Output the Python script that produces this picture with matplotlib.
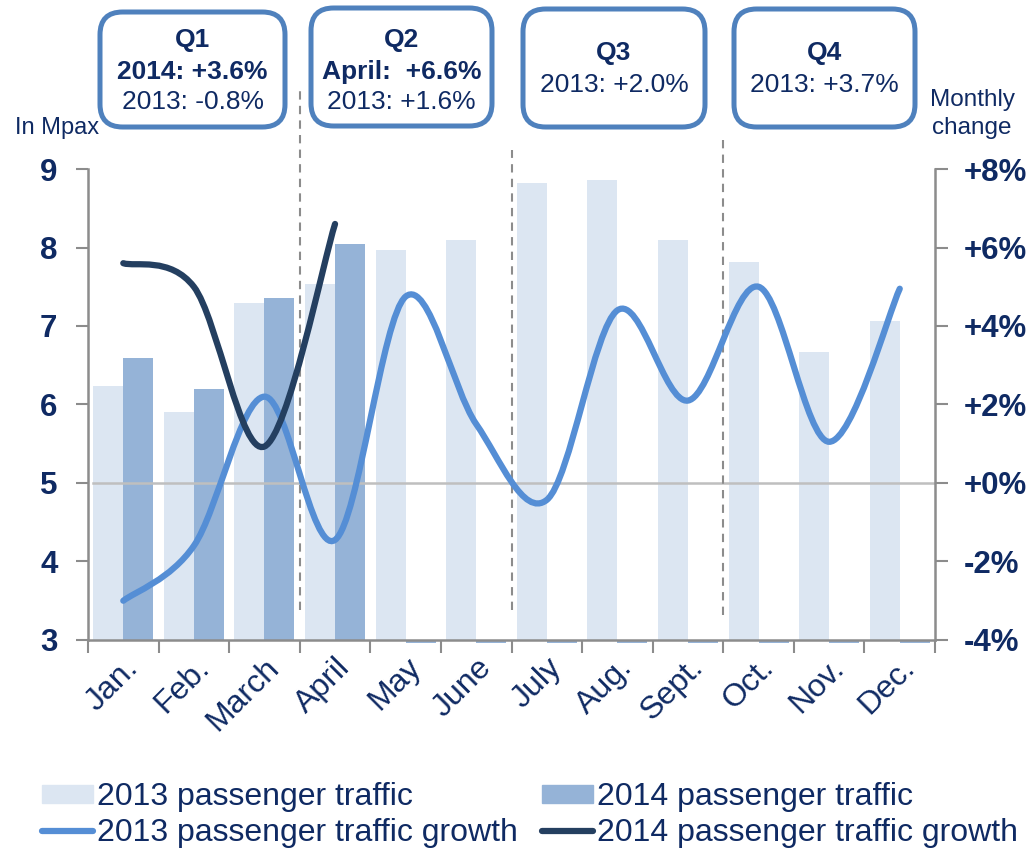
import matplotlib
matplotlib.use('Agg')
import matplotlib.pyplot as plt
from matplotlib.path import Path
from matplotlib.patches import PathPatch, FancyBboxPatch, Patch
from matplotlib.lines import Line2D
import matplotlib.transforms as mtransforms
import numpy as np

plt.rcParams['font.family'] = ['Liberation Sans', 'DejaVu Sans']

# data
months = ['Jan.', 'Feb.', 'March', 'April', 'May', 'June',
          'July', 'Aug.', 'Sept.', 'Oct.', 'Nov.', 'Dec.']
traffic_2013 = [6.24, 5.90, 7.29, 7.54, 7.97, 8.10, 8.82, 8.86, 8.10, 7.82, 6.67, 7.06]
traffic_2014 = [6.59, 6.20, 7.36, 8.04, 0, 0, 0, 0, 0, 0, 0, 0]
growth_2013 = [-3.0, -1.6, 2.2, -1.45, 4.75, 1.5, -0.43, 4.4, 2.1, 5.0, 1.05, 4.95]
growth_2014 = [5.6, 5.0, 0.93, 6.6]
quarters = ['Q1', 'Q2', 'Q3', 'Q4']
quarter_bold = ['2014: +3.6%', 'April:  +6.6%', None, None]
quarter_2013 = ['2013: -0.8%', '2013: +1.6%', '2013: +2.0%', '2013: +3.7%']

navy = '#0f2a63'
c13 = '#dce6f2'
c14 = '#95b3d7'
l13 = '#558ed5'
l14 = '#243f60'
box_col = '#4f81bd'
grey = '#8c8c8c'


def smooth_path(xs, ys):
    # bezier like excel "smoothed line"
    pts = np.column_stack([xs, ys]).astype(float)
    n = len(pts)
    verts = [pts[0]]
    codes = [Path.MOVETO]
    for i in range(n - 1):
        p0 = pts[i - 1] if i > 0 else pts[i]
        p1 = pts[i]
        p2 = pts[i + 1]
        p3 = pts[i + 2] if i + 2 < n else pts[i + 1]
        verts += [p1 + (p2 - p0) / 6.0, p2 - (p3 - p1) / 6.0, p2]
        codes += [Path.CURVE4] * 3
    return Path(verts, codes)


fig = plt.figure(figsize=(10.29, 8.48), dpi=100)
ax = fig.add_axes([0.0855, 0.2453, 0.8232, 0.5554])
x = np.arange(len(months))
w = 0.425

ax.bar(x - w / 2, traffic_2013, w, color=c13, zorder=2)
has14 = [v > 0 for v in traffic_2014]
ax.bar(x[has14] + w / 2, np.array(traffic_2014)[has14], w, color=c14, zorder=2)
# empty 2014 months show as a thin sliver under the axis
sl = ax.bar(x[[not h for h in has14]] + w / 2, -0.04, w, bottom=3, color=c14, zorder=2)
for b in sl:
    b.set_clip_on(False)

ax.set_xlim(-0.5, 11.5)
ax.set_ylim(3, 9)
ax.set_yticks(range(3, 10))
ax.set_xticks(np.arange(-0.5, 12, 1))
ax.set_xticklabels([])
ax.set_xticks(x, minor=True)
ax.set_xticklabels(months, minor=True, rotation=45, ha='right', va='top',
                   rotation_mode='anchor', fontsize=23, color=navy)
ax.tick_params(axis='x', which='minor', length=0, pad=9)
ax.tick_params(axis='x', which='major', length=9, width=1.5, color=grey)
ax.tick_params(axis='y', length=9, width=1.5, color=grey, labelsize=22.5,
               labelcolor=navy, pad=13)
for t in ax.get_yticklabels():
    t.set_fontweight('bold')
for s in ['top', 'right']:
    ax.spines[s].set_visible(False)
for s in ['left', 'bottom']:
    ax.spines[s].set_color(grey)
    ax.spines[s].set_linewidth(1.8)

# zero line of the growth axis
ax.axhline(5, xmin=0.006, color='#bfbfbf', lw=1.8, zorder=3)

# quarter separators
trans = mtransforms.blended_transform_factory(ax.transData, ax.transAxes)
for xb, y0, y1 in [(2.5, 0.064, 1.168), (5.5, 0.064, 1.04), (8.5, 0.053, 1.072)]:
    ax.plot([xb, xb], [y0, y1], transform=trans, color=grey, lw=1.5,
            ls=(0, (4, 3)), clip_on=False, zorder=3)

ax2 = ax.twinx()
ax2.set_ylim(-4, 8)
ax2.set_yticks(range(-4, 9, 2))
ax2.set_yticklabels(['-4%', '-2%', '+0%', '+2%', '+4%', '+6%', '+8%'])
ax2.tick_params(axis='y', length=9, width=1.5, color=grey, labelsize=22.5,
                labelcolor=navy, pad=12)
for t in ax2.get_yticklabels():
    t.set_fontweight('bold')
for s in ['top', 'left', 'bottom']:
    ax2.spines[s].set_visible(False)
ax2.spines['right'].set_color(grey)
ax2.spines['right'].set_linewidth(1.8)

ax2.add_patch(PathPatch(smooth_path(x, growth_2013), fill=False, ec=l13,
                        lw=4.5, capstyle='round', zorder=4))
ax2.add_patch(PathPatch(smooth_path(x[:len(growth_2014)], growth_2014), fill=False,
                        ec=l14, lw=4.5, capstyle='round', zorder=5))

fig.text(15 / 1029, 1 - 128 / 848, 'In Mpax', fontsize=17, color=navy,
         ha='left', va='center')
fig.text(972 / 1029, 1 - 114 / 848, 'Monthly\nchange', fontsize=17.5, color=navy,
         ha='center', va='center', linespacing=1.3)

# quarter boxes (pixel boxes: x0, x1, y0, y1)
boxes = [(100, 285, 12, 127), (311, 492, 8, 126), (523, 705, 9, 127), (734, 915, 9, 127)]
W, H = 1029, 848
for q, bold, t13, (x0, x1, y0, y1) in zip(quarters, quarter_bold, quarter_2013, boxes):
    fig.patches.append(FancyBboxPatch((x0 / W, 1 - y1 / H), (x1 - x0) / W, (y1 - y0) / H,
                                      boxstyle='round,pad=0,rounding_size=0.022',
                                      transform=fig.transFigure, fc='white',
                                      ec=box_col, lw=3.6, mutation_aspect=W / H))
    cx = (x0 + x1) / 2 / W
    if bold:
        fig.text(cx, 1 - 40 / H, q, fontsize=19, weight='bold', color=navy, ha='center', va='center')
        fig.text(cx, 1 - 72 / H, bold, fontsize=19, weight='bold', color=navy, ha='center', va='center')
        fig.text(cx, 1 - 102 / H, t13, fontsize=19, color=navy, ha='center', va='center')
    else:
        fig.text(cx, 1 - 53 / H, q, fontsize=19, weight='bold', color=navy, ha='center', va='center')
        fig.text(cx, 1 - 85 / H, t13, fontsize=19, color=navy, ha='center', va='center')

handles = [Patch(color=c13), Line2D([], [], color=l13, lw=4.5, solid_capstyle='round'),
           Patch(color=c14), Line2D([], [], color=l14, lw=4.5, solid_capstyle='round')]
labels = ['2013 passenger traffic', '2013 passenger traffic growth',
          '2014 passenger traffic', '2014 passenger traffic growth']
fig.legend(handles, labels, ncol=2, loc='upper left', bbox_to_anchor=(42 / W, 1 - 782 / H),
           frameon=False, fontsize=23, labelcolor=navy, handlelength=1.6,
           handleheight=0.5, handletextpad=0.12, columnspacing=0.75, labelspacing=0.2,
           borderpad=0, borderaxespad=0)

fig.savefig('out.png', dpi=100)
